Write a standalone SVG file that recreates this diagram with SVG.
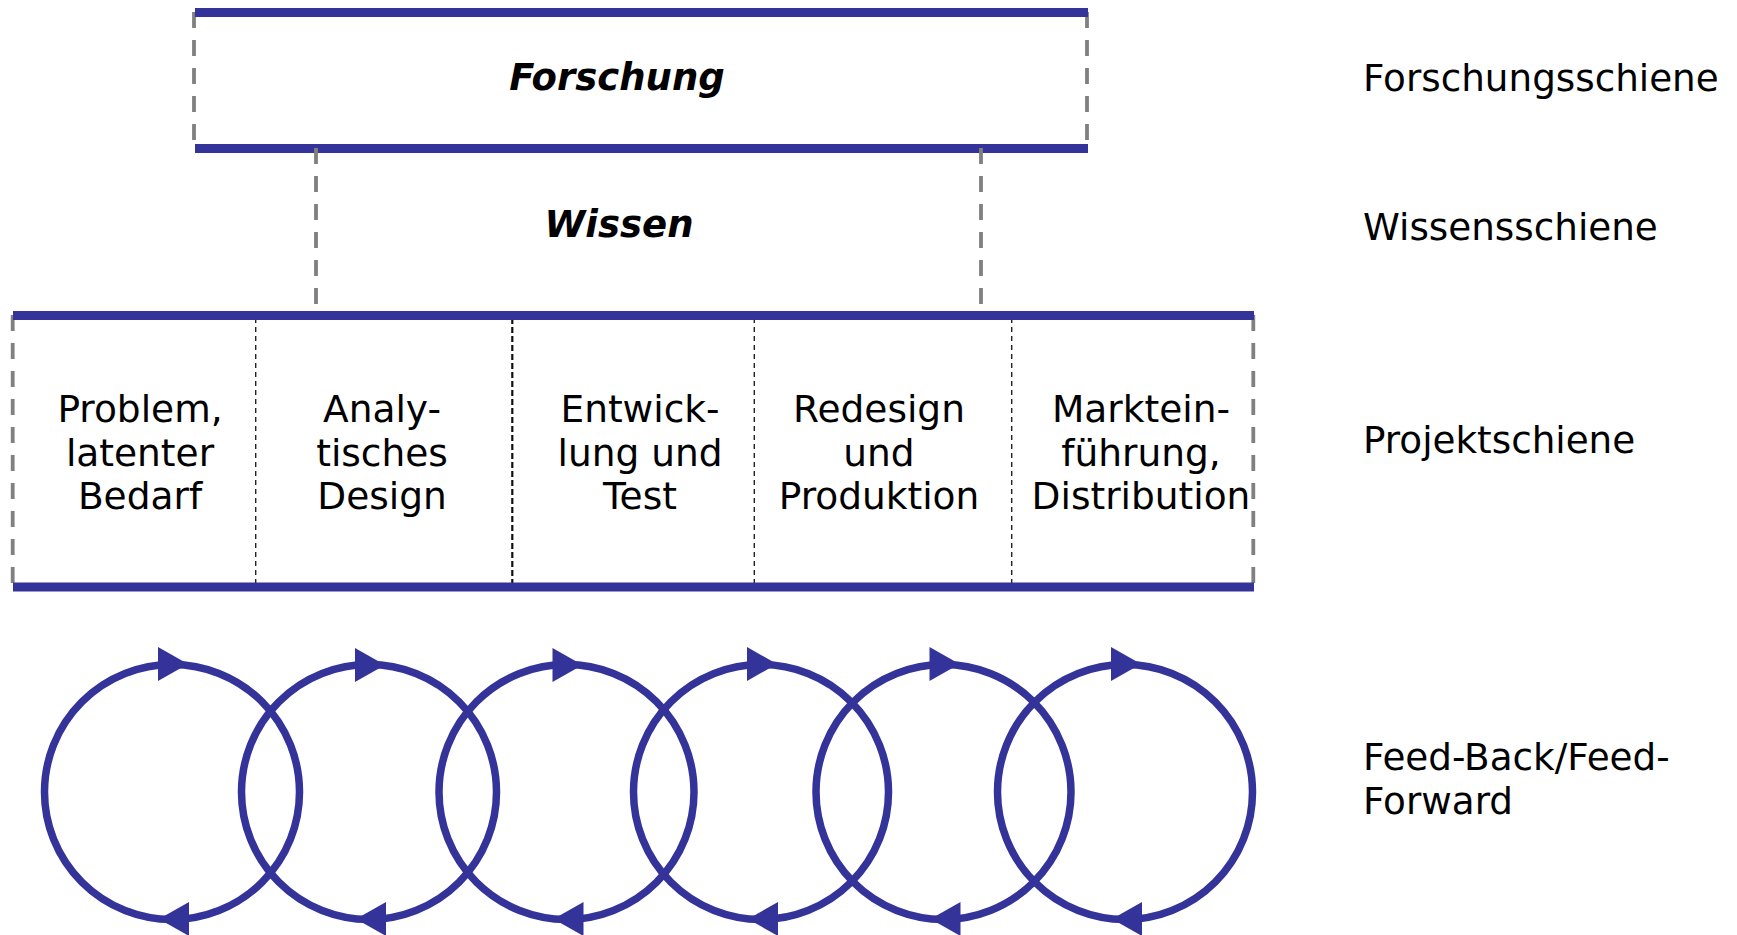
<svg xmlns="http://www.w3.org/2000/svg" xmlns:xlink="http://www.w3.org/1999/xlink" width="1737" height="935" viewBox="0 0 1737 935">
<style>
.rail{stroke:#333399;stroke-width:9;fill:none}
.edge{stroke:#808080;stroke-width:3.8;stroke-dasharray:16 12;fill:none}
.div{stroke:#222;stroke-width:1.4;stroke-dasharray:5 4;fill:none}
.div2{stroke:#111;stroke-width:2.2;stroke-dasharray:6 3;fill:none}
.loop{stroke:#333399;stroke-width:7.5;fill:none}
.arr{fill:#333399}
.t{font-family:"DejaVu Sans",Verdana,sans-serif;font-size:37.5px;fill:#000;text-anchor:middle}
.tb{font-family:"DejaVu Sans",Verdana,sans-serif;font-size:37px;font-weight:bold;font-style:italic;fill:#000;text-anchor:middle}
.lab{font-family:"DejaVu Sans",Verdana,sans-serif;font-size:37.3px;fill:#000}
</style>
<defs>
<path id="arrR" class="arr" d="M-14,-17 L16,0 L-14,17 Z"/>
<path id="arrL" class="arr" d="M17,-17 L-13,0 L17,17 Z"/>
</defs>
<rect width="1737" height="935" fill="#fff"/>

<g id="node-forschung">
<line class="edge" x1="194" y1="12" x2="194" y2="146"/>
<line class="edge" x1="1087" y1="12" x2="1087" y2="146"/>
<line class="rail" x1="195" y1="12.5" x2="1088" y2="12.5"/>
<line class="rail" x1="195" y1="148.5" x2="1088" y2="148.5"/>
<text class="tb" x="617" y="90">Forschung</text>
</g>

<g id="connectors">
<line class="edge" x1="316" y1="148" x2="316" y2="311"/>
<line class="edge" x1="981" y1="148" x2="981" y2="311"/>
</g>

<g id="node-wissen">
<text class="tb" x="619" y="237">Wissen</text>
</g>

<g id="node-projekt">
<line class="edge" x1="12.7" y1="315" x2="12.7" y2="587"/>
<line class="edge" x1="1253.3" y1="315" x2="1253.3" y2="587"/>
<line class="div" x1="255.7" y1="318" x2="255.7" y2="591"/>
<line class="div2" x1="512.3" y1="318" x2="512.3" y2="591"/>
<line class="div" x1="754.3" y1="318" x2="754.3" y2="591"/>
<line class="div" x1="1011.7" y1="318" x2="1011.7" y2="591"/>
<line class="rail" x1="13" y1="315.5" x2="1254" y2="315.5"/>
<line class="rail" x1="13" y1="587" x2="1254" y2="587"/>
<g id="cell-problem"><text class="t" x="140" y="422">Problem,</text><text class="t" x="140" y="465.5">latenter</text><text class="t" x="140" y="509">Bedarf</text></g>
<g id="cell-analyse"><text class="t" x="382" y="422">Analy-</text><text class="t" x="382" y="465.5">tisches</text><text class="t" x="382" y="509">Design</text></g>
<g id="cell-entwicklung"><text class="t" x="640" y="422">Entwick-</text><text class="t" x="640" y="465.5">lung und</text><text class="t" x="640" y="509">Test</text></g>
<g id="cell-redesign"><text class="t" x="879" y="422">Redesign</text><text class="t" x="879" y="465.5">und</text><text class="t" x="879" y="509">Produktion</text></g>
<g id="cell-markt"><text class="t" x="1141" y="422">Marktein-</text><text class="t" x="1141" y="465.5">führung,</text><text class="t" x="1141" y="509">Distribution</text></g>
</g>

<g id="node-loops">
<circle class="loop" cx="172" cy="792" r="127.5"/>
<circle class="loop" cx="369" cy="792" r="127.5"/>
<circle class="loop" cx="566.5" cy="792" r="127.5"/>
<circle class="loop" cx="761" cy="792" r="127.5"/>
<circle class="loop" cx="943.5" cy="792" r="127.5"/>
<circle class="loop" cx="1125" cy="792" r="127.5"/>
<use xlink:href="#arrR" x="172" y="664"/>
<use xlink:href="#arrR" x="369" y="665"/>
<use xlink:href="#arrR" x="566.5" y="665"/>
<use xlink:href="#arrR" x="761" y="664"/>
<use xlink:href="#arrR" x="943.5" y="664"/>
<use xlink:href="#arrR" x="1125" y="664"/>
<use xlink:href="#arrL" x="172" y="919"/>
<use xlink:href="#arrL" x="369" y="919"/>
<use xlink:href="#arrL" x="566.5" y="919"/>
<use xlink:href="#arrL" x="761" y="919"/>
<use xlink:href="#arrL" x="943.5" y="919"/>
<use xlink:href="#arrL" x="1125" y="919"/>
</g>

<g id="labels">
<text class="lab" x="1363" y="90.5">Forschungsschiene</text>
<text class="lab" x="1363" y="240">Wissensschiene</text>
<text class="lab" x="1363" y="452.5">Projektschiene</text>
<text class="lab" x="1363" y="770">Feed-Back/Feed-</text>
<text class="lab" x="1363" y="813.5">Forward</text>
</g>
</svg>
